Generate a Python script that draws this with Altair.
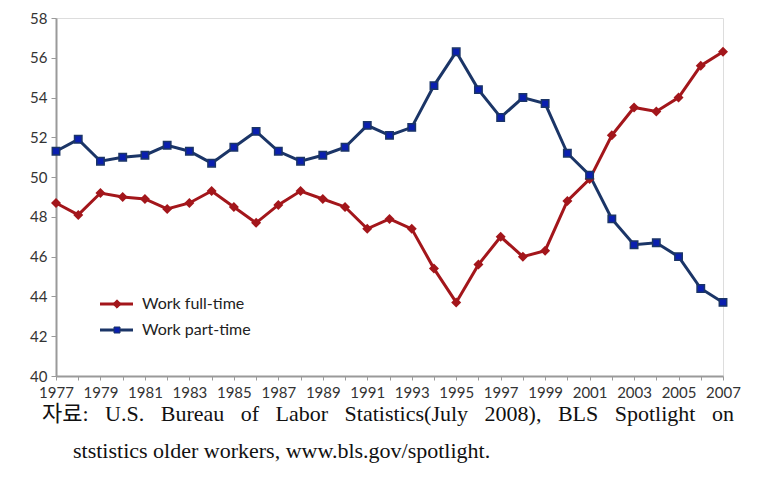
import altair as alt
import pandas as pd

years = list(range(1977, 2008))
full_time = [48.7, 48.1, 49.2, 49.0, 48.9, 48.4, 48.7, 49.3, 48.5, 47.7,
             48.6, 49.3, 48.9, 48.5, 47.4, 47.9, 47.4, 45.4, 43.7, 45.6,
             47.0, 46.0, 46.3, 48.8, 49.9, 52.1, 53.5, 53.3, 54.0, 55.6, 56.3]
part_time = [51.3, 51.9, 50.8, 51.0, 51.1, 51.6, 51.3, 50.7, 51.5, 52.3,
             51.3, 50.8, 51.1, 51.5, 52.6, 52.1, 52.5, 54.6, 56.3, 54.4,
             53.0, 54.0, 53.7, 51.2, 50.1, 47.9, 46.6, 46.7, 46.0, 44.4, 43.7]
series_names = ["Work full-time", "Work part-time"]
y_ticks = list(range(40, 60, 2))
caption_line1 = ["자료:", "U.S.", "Bureau", "of", "Labor", "Statistics(July",
                 "2008),", "BLS", "Spotlight", "on"]
caption_line2 = "ststistics older workers, www.bls.gov/spotlight."

RED = "#a3161b"
NAVY = "#1b3567"
BLUE = "#0a1fb0"
AXIS_FONT = "Lato, sans-serif"
SERIF = "Liberation Serif, Noto Sans CJK KR, serif"

df = pd.DataFrame({
    "year": years * 2,
    "value": full_time + part_time,
    "series": [series_names[0]] * len(years) + [series_names[1]] * len(years),
})

x = alt.X("year:Q", scale=alt.Scale(domain=[1977, 2007], nice=False, zero=False),
          axis=alt.Axis(values=years, format="d", title=None,
                        labelExpr="datum.value % 2 == 1 ? datum.label : ''",
                        labelFont=AXIS_FONT, labelFontSize=15, labelColor="#333333",
                        labelPadding=5, tickSize=4, tickColor="#9a9a9a",
                        domainColor="#9a9a9a", domainWidth=2, grid=False,
                        labelOverlap=False, labelFlush=False))
y = alt.Y("value:Q", scale=alt.Scale(domain=[40, 58], nice=False, zero=False),
          axis=alt.Axis(values=y_ticks, title=None, labelFont=AXIS_FONT,
                        labelFontSize=15, labelColor="#333333", labelPadding=4,
                        tickSize=5, tickColor="#9a9a9a", domainColor="#9a9a9a",
                        domainWidth=2, grid=False))
color = alt.Color("series:N", scale=alt.Scale(domain=series_names, range=[RED, NAVY]),
                  legend=None)

base = alt.Chart(df)
lines = base.mark_line(strokeWidth=3).encode(x=x, y=y, color=color)
pts_full = base.transform_filter(alt.datum.series == series_names[0]).mark_point(
    shape="diamond", filled=True, size=100, color=RED, opacity=1).encode(x=x, y=y)
pts_part = base.transform_filter(alt.datum.series == series_names[1]).mark_point(
    shape="square", filled=True, size=55, fill=BLUE, stroke=NAVY, strokeWidth=1.5,
    opacity=1).encode(x=x, y=y)

one = pd.DataFrame({"a": [0]})
leg_layers = []
for name, col, shp, yy, sz in [(series_names[0], RED, "diamond", 286, 70),
                                (series_names[1], NAVY, "square", 312, 36)]:
    leg_layers.append(alt.Chart(one).mark_rule(color=col, strokeWidth=3).encode(
        x=alt.value(44), x2=alt.value(77), y=alt.value(yy)))
    leg_layers.append(alt.Chart(one).mark_point(
        shape=shp, filled=True, size=sz, color=col if shp == "diamond" else BLUE,
        stroke=col, strokeWidth=1, opacity=1).encode(x=alt.value(61), y=alt.value(yy)))
    leg_layers.append(alt.Chart(one).mark_text(
        align="left", baseline="middle", font=AXIS_FONT, fontSize=16,
        color="#222222").encode(x=alt.value(86), y=alt.value(yy), text=alt.value(name)))

gap = "\u00a0" * 3
cap1 = alt.Chart(one).mark_text(align="left", baseline="alphabetic", font=SERIF,
                                fontSize=22, color="#111111").encode(
    x=alt.value(-14), y=alt.value(403), text=alt.value(gap.join(caption_line1)))
cap2 = alt.Chart(one).mark_text(align="left", baseline="alphabetic", font=SERIF,
                                fontSize=22, color="#111111").encode(
    x=alt.value(17), y=alt.value(440), text=alt.value(caption_line2))

chart = alt.layer(lines, pts_full, pts_part, *leg_layers, cap1, cap2).properties(
    width=667, height=358,
    padding={"left": 48, "top": 10, "right": 20, "bottom": 90},
    autosize=alt.AutoSizeParams(type="none"),
).configure_view(stroke=None).configure(background="white")

chart.save("out.html", embed_options={"renderer": "svg", "actions": False})
